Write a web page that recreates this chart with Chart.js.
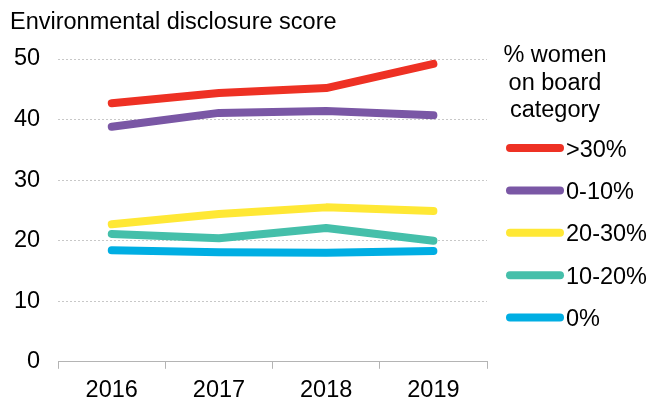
<!DOCTYPE html>
<html>
<head>
<meta charset="utf-8">
<script src="https://cdn.jsdelivr.net/npm/chart.js@4"></script>
<style>
    html, body { margin: 0; padding: 0; background: #fff; }
    #wrap { width: 651px; height: 401px; position: relative; }
</style>
</head>
<body>
<div id="wrap"><canvas id="chart"></canvas></div>
<script>
// Data
const years = ['2016', '2017', '2018', '2019'];
const over30 = [42.7, 44.4, 45.2, 49.2];
const pct0to10 = [38.8, 41.1, 41.4, 40.7];
const pct20to30 = [22.7, 24.4, 25.5, 24.9];
const pct10to20 = [21.1, 20.4, 22.1, 20.0];
const pct0 = [18.4, 18.1, 18.0, 18.3];
const yTicks = [0, 10, 20, 30, 40, 50];

const FONT = '"Liberation Sans", Arial, sans-serif';
const SIZE = 23.5;

function series(label, data, color) {
    return {
        label: label,
        data: data,
        borderColor: color,
        backgroundColor: color,
        borderWidth: 8,
        borderCapStyle: 'round',
        borderJoinStyle: 'round',
        pointRadius: 0,
        tension: 0
    };
}

// Title + right-hand legend drawn on the canvas
const sideText = {
    id: 'sideText',
    afterDraw(chart) {
        const c = chart.ctx;
        c.save();
        c.fillStyle = '#000';
        c.textBaseline = 'alphabetic';
        c.font = SIZE + 'px ' + FONT;
        c.textAlign = 'left';
        c.fillText('Environmental disclosure score', 10, 29);

        c.textAlign = 'center';
        ['% women', 'on board', 'category'].forEach((t, i) => {
            c.fillText(t, 555, 62 + i * 27.5);
        });

        c.textAlign = 'left';
        chart.data.datasets.forEach((ds, i) => {
            const base = 156.5 + i * 42.4;
            c.strokeStyle = ds.borderColor;
            c.lineWidth = 8;
            c.lineCap = 'round';
            c.beginPath();
            c.moveTo(510, base - 8.5);
            c.lineTo(560, base - 8.5);
            c.stroke();
            c.fillText(ds.label, 566, base);
        });
        c.restore();
    }
};

const ctx = document.getElementById('chart').getContext('2d');
const chart = new Chart(ctx, {
    type: 'line',
    data: {
        labels: years,
        datasets: [
            series('>30%', over30, '#EE3124'),
            series('0-10%', pct0to10, '#7A57A5'),
            series('20-30%', pct20to30, '#FFE835'),
            series('10-20%', pct10to20, '#45BFAA'),
            series('0%', pct0, '#00AEE3')
        ]
    },
    options: {
        responsive: true,
        maintainAspectRatio: false,
        animation: false,
        layout: { padding: { top: 59, right: 164, bottom: -12, left: -4 } },
        plugins: {
            legend: { display: false },
            tooltip: { enabled: false }
        },
        scales: {
            x: {
                offset: true,
                grid: {
                    offset: true,
                    drawOnChartArea: false,
                    tickLength: 7,
                    color: '#b4b4b4'
                },
                border: { display: true, color: '#b4b4b4', width: 1 },
                ticks: { color: '#000', font: { family: FONT, size: SIZE }, padding: 8 }
            },
            y: {
                min: 0,
                max: 50,
                afterBuildTicks(axis) {
                    axis.ticks = yTicks.map(v => ({ value: v }));
                },
                grid: {
                    color: '#c8c8c8',
                    drawTicks: false
                },
                border: { display: false, dash: [2, 2] },
                ticks: { color: '#000', font: { family: FONT, size: SIZE }, padding: 18 }
            }
        }
    },
    plugins: [sideText]
});
</script>
</body>
</html>
